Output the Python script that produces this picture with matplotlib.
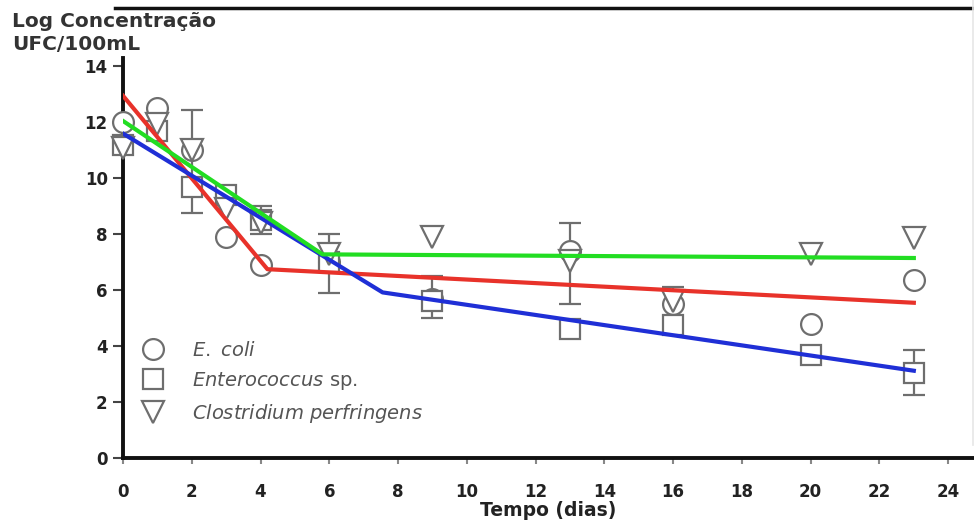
import numpy as np
import matplotlib
matplotlib.use("Agg")
import matplotlib.pyplot as plt
from matplotlib.lines import Line2D

# dias de amostragem
dias = [0, 1, 2, 3, 4, 6, 9, 13, 16, 20, 23]

# log UFC/100mL observados
ecoli = [12.0, 12.5, 11.0, 7.9, 6.9, 7.0, 5.7, 7.4, 5.5, 4.8, 6.35]
entero = [11.2, 11.7, 9.7, 9.4, 8.5, 7.0, 5.6, 4.6, 4.75, 3.7, 3.05]
clostr = [11.1, 11.95, 11.0, 8.9, 8.4, 7.3, 7.9, 7.05, 5.6, 7.3, 7.85]

# barras de erro (limite inferior / superior)
err_t = [2, 4, 6, 9, 13, 16, 23]
err_lo = [8.75, 8.0, 5.9, 5.0, 5.5, 5.5, 2.25]
err_hi = [12.45, 9.0, 8.0, 6.5, 8.4, 6.1, 3.85]

# modelos ajustados (segmentos)
fit_ecoli_t = [0, 4.2, 23]
fit_ecoli_y = [12.95, 6.75, 5.55]
fit_entero_t = [0, 7.55, 23]
fit_entero_y = [11.6, 5.92, 3.12]
fit_clostr_t = [0, 5.8, 23]
fit_clostr_y = [12.05, 7.28, 7.15]

cinza = "#6e6e6e"

fig = plt.figure(figsize=(9.74, 5.24), dpi=100)
ax = fig.add_axes([123 / 974, 66 / 524, 851 / 974, 400 / 524])

err_t = np.array(err_t)
lo = np.array(err_lo)
hi = np.array(err_hi)
mid = (lo + hi) / 2
ax.errorbar(err_t, mid, yerr=[mid - lo, hi - mid], fmt="none",
            ecolor=cinza, elinewidth=1.6, capsize=8, capthick=1.6, zorder=2)

mk = dict(ls="none", mfc="white", mec=cinza, mew=1.6, zorder=3)
ax.plot(dias, ecoli, marker="o", ms=15, clip_on=False, **mk)
ax.plot(dias, entero, marker="s", ms=15, clip_on=False, **mk)
ax.plot(dias, clostr, marker="v", ms=16, clip_on=False, **mk)

ax.plot(fit_ecoli_t, fit_ecoli_y, color="#e8322a", lw=3, zorder=4)
ax.plot(fit_entero_t, fit_entero_y, color="#1f2fd6", lw=3, zorder=4)
ax.plot(fit_clostr_t, fit_clostr_y, color="#22dd22", lw=3, zorder=4)

ax.set_xlim(0, 24.75)
ax.set_ylim(0, 14.3)
ax.set_xticks(range(0, 25, 2))
ax.set_yticks(range(0, 15, 2))
for s in ["top", "right"]:
    ax.spines[s].set_visible(False)
for s in ["left", "bottom"]:
    ax.spines[s].set_linewidth(2.8)
    ax.spines[s].set_color("#111111")
ax.tick_params(axis="y", length=7, width=1.5, color="#444444", pad=4,
               labelsize=12, labelcolor="#222222")
ax.tick_params(axis="x", length=4, width=1.5, color="#888888", pad=14,
               labelsize=12, labelcolor="#222222")
for lab in ax.get_xticklabels() + ax.get_yticklabels():
    lab.set_fontweight("bold")

ax.set_xlabel("Tempo (dias)", fontsize=13.5, fontweight="bold",
              color="#222222", labelpad=0)
fig.text(12 / 974, 1 - 33 / 524, "Log Concentração\nUFC/100mL",
         fontsize=14.5, fontweight="bold", color="#333333",
         ha="left", va="center", linespacing=1.3)

# legenda
handles = [
    Line2D([], [], marker="o", ms=15, **mk),
    Line2D([], [], marker="s", ms=15, **mk),
    Line2D([], [], marker="v", ms=16, **mk),
]
labels = [r"$\it{E.}$ $\it{coli}$", r"$\it{Enterococcus}$ sp.",
          r"$\it{Clostridium}$ $\it{perfringens}$"]
leg = ax.legend(handles, labels, loc="upper left",
                bbox_to_anchor=(10.6 / 851, 0.2935), frameon=False,
                fontsize=14, labelcolor="#555555", handletextpad=1.0,
                labelspacing=0.53, borderaxespad=0, borderpad=0)

# moldura da imagem
fig.add_artist(Line2D([115 / 974, 1], [1 - 8 / 524] * 2, color="#111111",
                      lw=2.5, transform=fig.transFigure))
fig.add_artist(Line2D([973 / 974] * 2, [0.15, 1], color="#e6e6e6",
                      lw=1.2, transform=fig.transFigure))

fig.savefig("out.png", dpi=100)
